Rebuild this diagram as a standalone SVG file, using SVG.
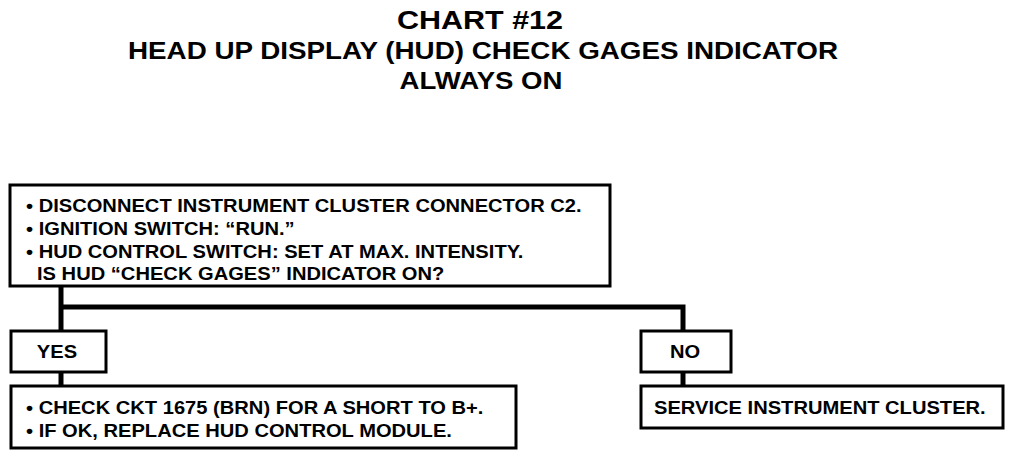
<svg xmlns="http://www.w3.org/2000/svg" width="1024" height="456" viewBox="0 0 1024 456">
<style>
.box{fill:#fff;stroke:#000;stroke-width:3}
.t{font-family:"Liberation Sans",Arial,sans-serif;font-weight:bold;fill:#000;font-size:19px}
.m{text-anchor:middle}
.h{font-family:"Liberation Sans",Arial,sans-serif;font-weight:bold;fill:#000;text-anchor:middle}
.c{fill:none;stroke:#000;stroke-width:5}
</style>
<rect width="1024" height="456" fill="#fff"/>
<g id="title">
<text class="h" x="480" y="29" font-size="26" textLength="166" lengthAdjust="spacingAndGlyphs">CHART #12</text>
<text class="h" x="483" y="59" font-size="23" textLength="710" lengthAdjust="spacingAndGlyphs">HEAD UP DISPLAY (HUD) CHECK GAGES INDICATOR</text>
<text class="h" x="481" y="89" font-size="23" textLength="163" lengthAdjust="spacingAndGlyphs">ALWAYS ON</text>
</g>
<g id="connectors">
<polyline class="c" points="61,286 61,330"/>
<polyline class="c" points="61,307 683,307 683,330"/>
<polyline class="c" points="61,372 61,386"/>
<polyline class="c" points="683,372 683,386"/>
</g>
<g id="start">
<rect class="box" x="10" y="185" width="600" height="101"/>
<text class="t" transform="translate(26,212) scale(1.06,1)">• DISCONNECT INSTRUMENT CLUSTER CONNECTOR C2.</text>
<text class="t" transform="translate(26,235) scale(1.06,1)">• IGNITION SWITCH: “RUN.”</text>
<text class="t" transform="translate(26,258) scale(1.06,1)">• HUD CONTROL SWITCH: SET AT MAX. INTENSITY.</text>
<text class="t" transform="translate(37,280) scale(1.06,1)">IS HUD “CHECK GAGES” INDICATOR ON?</text>
</g>
<g id="yes">
<rect class="box" x="11" y="331" width="95" height="41"/>
<text class="t m" transform="translate(57,358) scale(1.06,1)">YES</text>
</g>
<g id="no">
<rect class="box" x="641" y="331" width="90" height="41"/>
<text class="t m" transform="translate(685,358) scale(1.06,1)">NO</text>
</g>
<g id="yes-action">
<rect class="box" x="11" y="386" width="505" height="62"/>
<text class="t" transform="translate(26,414) scale(1.06,1)">• CHECK CKT 1675 (BRN) FOR A SHORT TO B+.</text>
<text class="t" transform="translate(26,437) scale(1.06,1)">• IF OK, REPLACE HUD CONTROL MODULE.</text>
</g>
<g id="no-action">
<rect class="box" x="641" y="386" width="362" height="42"/>
<text class="t" transform="translate(654,414) scale(1.06,1)">SERVICE INSTRUMENT CLUSTER.</text>
</g>
</svg>
